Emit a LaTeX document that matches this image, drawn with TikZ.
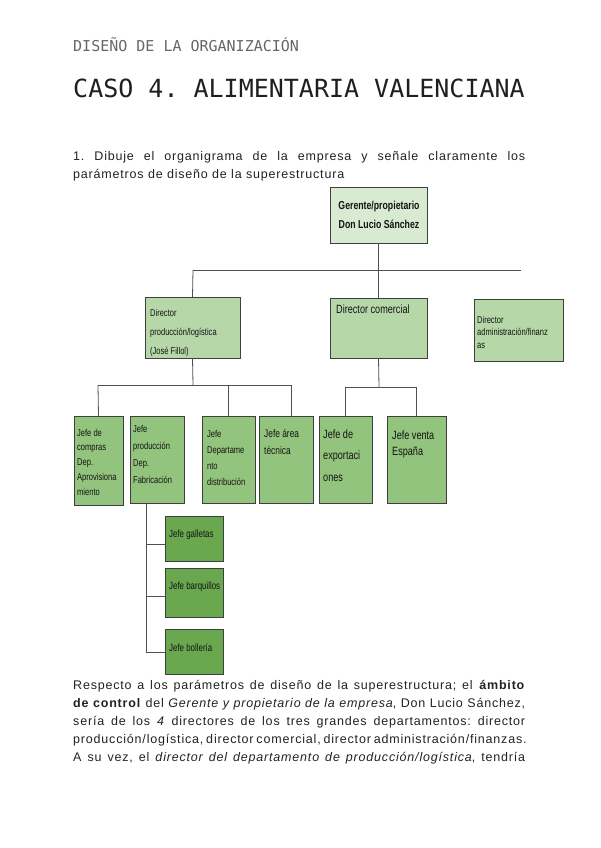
\documentclass[tikz,border=0pt]{standalone}
\usepackage{fontspec}
\setmainfont[LetterSpace=6.5]{Liberation Sans}
\newfontfamily\chartfont[FakeStretch=0.76]{Liberation Sans}
\newfontfamily\headmono{DejaVu Sans Mono}
\frenchspacing
\definecolor{g1}{HTML}{D9EAD3}
\definecolor{g2}{HTML}{B6D7A8}
\definecolor{g3}{HTML}{93C47D}
\definecolor{g4}{HTML}{6AA84F}
\definecolor{edgec}{HTML}{3F3F3F}
\definecolor{connc}{HTML}{505050}
\definecolor{bodyc}{HTML}{222222}
\newcommand\ltxt[1]{\vtop{\halign{##\hfil\cr#1\crcr}}}
\newcommand\ctxt[1]{\vtop{\halign{\hfil##\hfil\cr#1\crcr}}}
\tikzset{
  orgbox/.style={draw=edgec, line width=0.9pt, inner sep=0pt, outer sep=0pt, anchor=north west},
  boxlabel/.style={inner sep=0pt, anchor=base west, text=black!92},
  link/.style={draw=connc, line width=0.8pt},
  bodyline/.style={inner sep=0pt, anchor=base west, text=bodyc, font=\fontsize{12.5}{18}\selectfont}
}
\begin{document}
\begin{tikzpicture}[x=1pt,y=-1pt]
\useasboundingbox (0,0) rectangle (600,848);
% header
\node[inner sep=0pt, anchor=base west, text=black!60, font=\headmono\fontsize{15}{18}\selectfont] (head) at (73,52) {DISEÑO DE LA ORGANIZACIÓN};
\node[inner sep=0pt, anchor=base west, text=black!88, font=\headmono\fontsize{25}{30}\selectfont] (title) at (73,98) {CASO 4. ALIMENTARIA VALENCIANA};
% question
\node[bodyline] (q1) at (73,160) {\makebox[452pt][s]{1. Dibuje el organigrama de la empresa y señale claramente los}};
\node[bodyline] (q2) at (73,178) {parámetros de diseño de la superestructura};
% boxes
\node[orgbox, fill=g1, minimum width=97pt, minimum height=56pt] (ger) at (330,187) {};
\node[orgbox, fill=g2, minimum width=95pt, minimum height=61pt] (dprod) at (145,297) {};
\node[orgbox, fill=g2, minimum width=97pt, minimum height=60pt] (dcom) at (330,298) {};
\node[orgbox, fill=g2, minimum width=89pt, minimum height=62pt] (dadm) at (474,299) {};
\node[orgbox, fill=g3, minimum width=49pt, minimum height=89pt] (compras) at (74,416) {};
\node[orgbox, fill=g3, minimum width=54pt, minimum height=87pt] (jprod) at (130,416) {};
\node[orgbox, fill=g3, minimum width=53pt, minimum height=87pt] (dist) at (202,416) {};
\node[orgbox, fill=g3, minimum width=54pt, minimum height=87pt] (tec) at (259,416) {};
\node[orgbox, fill=g3, minimum width=53pt, minimum height=87pt] (expo) at (319,416) {};
\node[orgbox, fill=g3, minimum width=59pt, minimum height=87pt] (venta) at (387,416) {};
\node[orgbox, fill=g4, minimum width=58pt, minimum height=45pt] (gall) at (165,516) {};
\node[orgbox, fill=g4, minimum width=58pt, minimum height=49pt] (barq) at (165,568) {};
\node[orgbox, fill=g4, minimum width=58pt, minimum height=45pt] (boll) at (165,629) {};
% labels
\node[inner sep=0pt, anchor=base, text=black!92, font=\chartfont\bfseries\fontsize{11.5}{19}\selectfont] (tger) at (379,209) {\ctxt{Gerente/propietario\cr Don Lucio Sánchez}};
\node[boxlabel, font=\chartfont\fontsize{9.9}{19}\selectfont] (tdprod) at (150,316) {\ltxt{Director\cr producción/logística\cr (José Fillol)}};
\node[boxlabel, font=\chartfont\fontsize{12}{14}\selectfont] (tdcom) at (336,313) {Director comercial};
\node[boxlabel, font=\chartfont\fontsize{9.9}{12.5}\selectfont] (tdadm) at (477,323) {\ltxt{Director\cr administración/finanz\cr as}};
\node[boxlabel, font=\chartfont\fontsize{9.9}{14.75}\selectfont] (tcompras) at (77,436) {\ltxt{Jefe de\cr compras\cr Dep.\cr Aprovisiona\cr miento}};
\node[boxlabel, font=\chartfont\fontsize{9.9}{17}\selectfont] (tjprod) at (133,432) {\ltxt{Jefe\cr producción\cr Dep.\cr Fabricación}};
\node[boxlabel, font=\chartfont\fontsize{9.9}{16}\selectfont] (tdist) at (207,437) {\ltxt{Jefe\cr Departame\cr nto\cr distribución}};
\node[boxlabel, font=\chartfont\fontsize{11}{17}\selectfont] (ttec) at (264,437) {\ltxt{Jefe área\cr técnica}};
\node[boxlabel, font=\chartfont\fontsize{12}{21.5}\selectfont] (texpo) at (323,438) {\ltxt{Jefe de\cr exportaci\cr ones}};
\node[boxlabel, font=\chartfont\fontsize{12}{16}\selectfont] (tventa) at (392,439) {\ltxt{Jefe venta\cr España}};
\node[boxlabel, font=\chartfont\fontsize{10.4}{12}\selectfont] (tgall) at (169,537) {Jefe galletas};
\node[boxlabel, font=\chartfont\fontsize{10.4}{12}\selectfont] (tbarq) at (169,589) {Jefe barquillos};
\node[boxlabel, font=\chartfont\fontsize{10.4}{12}\selectfont] (tboll) at (169,651) {Jefe bollería};
% connectors level 1
\coordinate (h1l) at (193,270);
\coordinate (h1r) at (521,270);
\draw[link] (ger.south) -- (dcom.north);
\draw[link] (h1l) -- (h1r);
\draw[link] (h1l) -- (dprod.north);
% production branch
\coordinate (h2m) at (193,385);
\coordinate (h2l) at (98,385);
\coordinate (h2r) at (291,385);
\draw[link] (dprod.south) -- (h2m);
\draw[link] (h2l) -- (h2r);
\draw[link] (h2l) -- (compras.north);
\draw[link] (h2m -| dist.north) -- (dist.north);
\draw[link] (h2r) -- (h2r |- tec.north);
% commercial branch
\coordinate (h3m) at (379,387);
\draw[link] (dcom.south) -- (h3m);
\draw[link] (h3m -| expo.north) -- (h3m -| venta.north);
\draw[link] (h3m -| expo.north) -- (expo.north);
\draw[link] (h3m -| venta.north) -- (venta.north);
% fabrication branch
\coordinate (v4t) at (146,503);
\coordinate (v4b) at (146,652);
\draw[link] (v4t) -- (v4b);
\draw[link] (146,544) -- (gall.west |- 146,544);
\draw[link] (146,596) -- (barq.west |- 146,596);
\draw[link] (v4b) -- (boll.west |- v4b);
% paragraph
\node[bodyline] (r1) at (73,689) {\makebox[452pt][s]{Respecto a los parámetros de diseño de la superestructura; el \textbf{ámbito}}};
\node[bodyline] (r2) at (73,707) {\makebox[452pt][s]{\textbf{de control} del \textit{Gerente y propietario de la empresa}, Don Lucio Sánchez,}};
\node[bodyline] (r3) at (73,725) {\makebox[452pt][s]{sería de los \textit{4} directores de los tres grandes departamentos: director}};
\node[bodyline] (r4) at (73,743) {\makebox[452pt][s]{producción/logística, director comercial, director administración/finanzas.}};
\node[bodyline] (r5) at (73,761) {\makebox[452pt][s]{A su vez, el \textit{director del departamento de producción/logística}, tendría}};
\end{tikzpicture}
\end{document}
